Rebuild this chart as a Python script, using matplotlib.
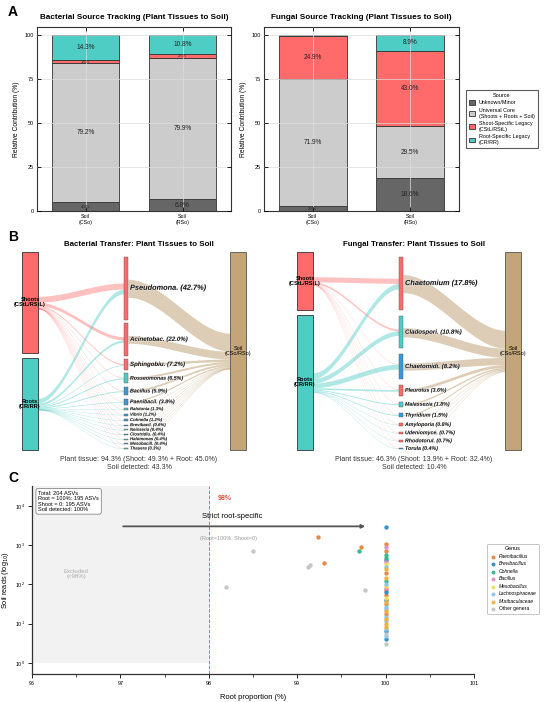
import numpy as np
import matplotlib
matplotlib.use("Agg")
import matplotlib.pyplot as plt
from matplotlib.patches import Rectangle, Patch
from matplotlib.ticker import MultipleLocator, NullLocator
import matplotlib.patheffects as pe

plt.rcParams['font.family'] = ['Liberation Sans', 'DejaVu Sans']

# ---------------- panel A: source tracking (%)
samples = ['Soil\n(CSo)', 'Soil\n(RSo)']
source_names = ['Unknown/Minor', 'Universal Core\n(Shoots + Roots + Soil)',
                'Shoot-Specific Legacy\n(CStL/RStL)', 'Root-Specific Legacy\n(CR/RR)']
bac_unknown = [4.9, 6.8]
bac_core = [79.2, 79.9]
bac_shoot = [1.6, 2.5]
bac_root = [14.3, 10.8]
fun_unknown = [2.8, 18.6]
fun_core = [71.9, 29.5]
fun_shoot = [24.9, 43.0]
fun_root = [0.4, 8.9]

# ---------------- panel B: transfer plant tissue -> soil (%)
bac_genera = ['Pseudomona.', 'Acinetobac.', 'Sphingobiu.', 'Rosseomonas', 'Bacillus',
              'Paenibacil.', 'Ralstonia', 'Vibrio', 'Cohnella', 'Brevibacil.',
              'Neisseria', 'Clostridiu.', 'Halomonas', 'Mesobacill.', 'Thauera']
bac_from_shoot = [24.0, 13.0, 4.5, 2.0, 2.0, 1.2, 0.6, 0.4, 0.5, 0.3, 0.3, 0.1, 0.2, 0.1, 0.1]
bac_from_root = [18.7, 9.0, 2.7, 4.5, 3.9, 2.6, 0.7, 0.8, 0.7, 0.3, 0.1, 0.3, 0.2, 0.3, 0.2]
bac_to_soil = [22.0, 9.5, 3.0, 2.5, 2.3, 1.6, 0.5, 0.4, 0.5, 0.3, 0.1, 0.2, 0.1, 0.2, 0.1]
bac_kind = ['shoot', 'shoot', 'shoot', 'root', 'both', 'both', 'root', 'both', 'both',
            'both', 'root', 'both', 'root', 'both', 'root']

fun_genera = ['Chaetomium', 'Cladospori.', 'Chaetomidi.', 'Pleurotus', 'Malassezia',
              'Thyridium', 'Amyloporia', 'Udeniomyce.', 'Rhodotorul.', 'Torula']
fun_from_shoot = [8.5, 3.0, 0.2, 0.8, 0.2, 0.1, 0.4, 0.3, 0.3, 0.1]
fun_from_root = [9.3, 7.8, 8.0, 2.8, 1.6, 1.4, 0.4, 0.4, 0.4, 0.3]
fun_to_soil = [4.5, 2.3, 1.8, 0.7, 0.4, 0.3, 0.1, 0.1, 0.1, 0.1]
fun_kind = ['shoot', 'root', 'both', 'shoot', 'root', 'both', 'shoot', 'shoot', 'shoot', 'both']

# ---------------- panel C: root-specific ASVs
partial_root_pct = [98.2, 98.5, 99.12, 99.15, 99.23, 99.30, 99.70, 99.72, 99.77]
partial_soil_reads = [85, 700, 280, 310, 1600, 350, 700, 900, 70]
partial_genus = ['Other genera', 'Other genera', 'Other genera', 'Other genera',
                 'Paenibacillus', 'Paenibacillus', 'Cohnella', 'Paenibacillus', 'Other genera']
strict_soil_reads = [2860, 1080, 890, 700, 550, 477, 410, 365, 325, 277, 242, 198, 144, 123,
                     105, 92, 83, 73, 62, 54, 46, 41, 35, 32, 27, 24, 21, 18, 15, 13, 11.5,
                     9.9, 8.4, 7.4, 6.3, 5.5, 4.9, 4.0, 3.0]
strict_genus = ['Brevibacillus', 'Paenibacillus', 'Bacillus', 'Paenibacillus', 'Cohnella',
                'Cohnella', 'Brevibacillus', 'Bacillus', 'Mesobacillus', 'Lachnospiraceae',
                'Muribaculaceae', 'Paenibacillus', 'Muribaculaceae', 'Cohnella',
                'Lachnospiraceae', 'Mesobacillus', 'Bacillus', 'Paenibacillus', 'Brevibacillus',
                'Paenibacillus', 'Mesobacillus', 'Brevibacillus', 'Muribaculaceae',
                'Paenibacillus', 'Lachnospiraceae', 'Lachnospiraceae', 'Muribaculaceae',
                'Paenibacillus', 'Lachnospiraceae', 'Muribaculaceae', 'Lachnospiraceae',
                'Muribaculaceae', 'Muribaculaceae', 'Lachnospiraceae', 'Brevibacillus',
                'Other genera', 'Lachnospiraceae', 'Brevibacillus', 'Other genera']
n_total_asv = 204
n_root100 = 195
n_shoot0 = 195
soil_detected_pct = 100
root_cutoff = 98

# ---------------- colours
C_UNK, C_CORE, C_SHOOT, C_ROOT = '#666666', '#CCCCCC', '#FF6B6B', '#4ECDC4'
C_BOTH = '#3A9AD9'
C_SOIL = '#C4A57A'
kind_color = {'shoot': C_SHOOT, 'root': C_ROOT, 'both': C_BOTH}
genus_colors = {'Paenibacillus': '#E8833A', 'Brevibacillus': '#2E8BCC', 'Cohnella': '#2DB88A',
                'Bacillus': '#E68AC3', 'Mesobacillus': '#EEE055', 'Lachnospiraceae': '#86C5EC',
                'Muribaculaceae': '#F2AE3C', 'Other genera': '#C4C4C4'}

fig = plt.figure(figsize=(5.5, 7.02), dpi=100)
W, H = 550.0, 702.0


def px_axes(x0, y0, x1, y1):
    return fig.add_axes([x0 / W, 1 - y1 / H, (x1 - x0) / W, (y1 - y0) / H])


def draw_source(ax, title, unknown, core, shoot, root):
    x = np.arange(len(samples))
    bottom = np.zeros(len(samples))
    for vals, col in zip([unknown, core, shoot, root], [C_UNK, C_CORE, C_SHOOT, C_ROOT]):
        vals = np.array(vals)
        ax.bar(x, vals, 0.7, bottom=bottom, color=col, edgecolor='#333333', lw=0.6, zorder=2)
        for xi, b, v in zip(x, bottom, vals):
            if v >= 1.0:
                ax.text(xi, b + v / 2, f'{v:.1f}%', ha='center', va='center',
                        fontsize=4.7 if v >= 5 else 3.0, color='#222222', zorder=4)
        bottom += vals
    ax.set_xlim(-0.5, 1.5)
    ax.set_ylim(0, 104.5)
    ax.set_xticks(x)
    ax.set_xticklabels(samples, fontsize=3.8)
    ax.set_yticks([0, 25, 50, 75, 100])
    ax.tick_params(axis='y', labelsize=4.0)
    ax.tick_params(direction='in', length=3, width=0.6, top=True, right=True, pad=2.5)
    ax.set_axisbelow(False)
    ax.grid(color='#DDDDDD', lw=0.5)
    for s in ax.spines.values():
        s.set_color('#333333')
        s.set_linewidth(0.8)
    ax.set_ylabel('Relative Contribution (%)', fontsize=4.9, labelpad=3)
    ax.set_title(title, fontsize=5.9, fontweight='bold', pad=6)


def band(ax, x0, x1, y0, y1, w, color, alpha):
    t = np.linspace(0, 1, 80)
    s = 3 * t ** 2 - 2 * t ** 3
    xs = x0 + (x1 - x0) * t
    yc = y0 + (y1 - y0) * s
    w = max(w, 0.4)
    ax.fill_between(xs, yc - w / 2, yc + w / 2, color=color, alpha=alpha, lw=0, zorder=1)


def draw_sankey(ax, title, genera, from_shoot, from_root, to_soil, kinds):
    shoot = np.array(from_shoot)
    root = np.array(from_root)
    soil = np.array(to_soil)
    total = shoot + root
    n = len(genera)
    ax.set_xlim(0, 230)
    ax.set_ylim(236, 0)
    ax.axis('off')
    sx0, sx1 = 2, 18
    mx0, mx1 = 104, 108
    tx0, tx1 = 210, 226
    top, bot, gap = 16, 214, 5
    h_sh = (bot - top - gap) * shoot.sum() / total.sum()
    sh_top, sh_bot = top, top + h_sh
    rt_top, rt_bot = sh_bot + gap, bot
    sh_c, rt_c, soil_c = (sh_top + sh_bot) / 2, (rt_top + rt_bot) / 2, (top + bot) / 2

    mtop, mbot = 21, 213
    h = np.maximum(total / total.sum() * 0.72 * (mbot - mtop), 1.0)
    mgap = (mbot - mtop - h.sum()) / (n - 1)
    ytop = mtop + np.concatenate([[0], np.cumsum(h[:-1] + mgap)])
    mc = ytop + h / 2

    fscale = 10.7 / total.max()
    ws, wr = shoot * fscale, root * fscale
    s_cent = sh_c - ws.sum() / 2 + np.cumsum(ws) - ws / 2
    r_cent = rt_c - wr.sum() / 2 + np.cumsum(wr) - wr / 2
    m_top = mc - (ws + wr) / 2
    for i in range(n):
        band(ax, sx1, mx0, s_cent[i], m_top[i] + ws[i] / 2, ws[i], C_SHOOT, 0.42)
    for i in range(n):
        band(ax, sx1, mx0, r_cent[i], m_top[i] + ws[i] + wr[i] / 2, wr[i], C_ROOT, 0.45)
    wt = soil * 18 / soil.max()
    t_cent = soil_c - wt.sum() / 2 + np.cumsum(wt) - wt / 2
    for i in range(n):
        band(ax, mx1, tx0, mc[i], t_cent[i], wt[i], C_SOIL, 0.55)

    # nodes
    ax.add_patch(Rectangle((sx0, sh_top), sx1 - sx0, sh_bot - sh_top, fc=C_SHOOT, ec='#333333', lw=0.6, zorder=3))
    ax.add_patch(Rectangle((sx0, rt_top), sx1 - sx0, rt_bot - rt_top, fc=C_ROOT, ec='#333333', lw=0.6, zorder=3))
    ax.add_patch(Rectangle((tx0, top), tx1 - tx0, bot - top, fc=C_SOIL, ec='#555555', lw=0.6, zorder=3))
    ax.text((sx0 + sx1) / 2, sh_c, 'Shoots\n(CStL/RStL)', ha='center', va='center',
            fontsize=4.1, fontweight='bold', zorder=5, linespacing=1.0)
    ax.text((sx0 + sx1) / 2, rt_c, 'Roots\n(CR/RR)', ha='center', va='center',
            fontsize=4.1, fontweight='bold', zorder=5, linespacing=1.0)
    ax.text((tx0 + tx1) / 2, soil_c, 'Soil\n(CSo/RSo)', ha='center', va='center',
            fontsize=4.0, zorder=5, linespacing=1.0)
    for i in range(n):
        ax.add_patch(Rectangle((mx0, ytop[i]), mx1 - mx0, h[i], fc=kind_color[kinds[i]],
                               ec='#555555', lw=0.3, zorder=3))
        if i == 0:
            fs = 5.3
        elif i < 3:
            fs = 4.4
        elif total[i] >= 1.5 or n <= 10:
            fs = 3.8
        else:
            fs = 3.1
        ax.text(mx1 + 2, mc[i], f'{genera[i]} ({total[i]:.1f}%)', ha='left', va='center',
                fontsize=fs, fontstyle='italic', fontweight='bold', color='#1A1A1A', zorder=5,
                path_effects=[pe.withStroke(linewidth=0.8, foreground='white', alpha=0.6)])
    ax.text(119, 9, title, ha='center', va='center', fontsize=5.7, fontweight='bold')
    ax.text(119, 220, f'Plant tissue: {total.sum():.1f}% (Shoot: {shoot.sum():.1f}% + Root: {root.sum():.1f}%)\n'
            f'Soil detected: {soil.sum():.1f}%', ha='center', va='top', fontsize=5.0,
            color='#333333', linespacing=1.15)


# ---- panel A
axA1 = px_axes(37, 27, 231, 211)
axA2 = px_axes(264, 27, 459, 211)
draw_source(axA1, 'Bacterial Source Tracking (Plant Tissues to Soil)', bac_unknown, bac_core, bac_shoot, bac_root)
draw_source(axA2, 'Fungal Source Tracking (Plant Tissues to Soil)', fun_unknown, fun_core, fun_shoot, fun_root)
handles = [Patch(facecolor=c, edgecolor='#333333', lw=0.6, label=l)
           for c, l in zip([C_UNK, C_CORE, C_SHOOT, C_ROOT], source_names)]
leg = axA2.legend(handles=handles, title='Source', loc='upper left', bbox_to_anchor=(1.02, 0.675),
                  fontsize=3.9, title_fontsize=4.0, fancybox=False, edgecolor='#333333',
                  handlelength=1.2, handleheight=1.0, borderpad=0.6, labelspacing=0.45,
                  handletextpad=0.6)
leg.get_frame().set_linewidth(0.8)

# ---- panel B
axB1 = px_axes(20, 236, 250, 472)
axB2 = px_axes(295, 236, 525, 472)
draw_sankey(axB1, 'Bacterial Transfer: Plant Tissues to Soil', bac_genera, bac_from_shoot,
            bac_from_root, bac_to_soil, bac_kind)
draw_sankey(axB2, 'Fungal Transfer: Plant Tissues to Soil', fun_genera, fun_from_shoot,
            fun_from_root, fun_to_soil, fun_kind)

# ---- panel C
axC = px_axes(32, 486, 474, 674)
axC.set_yscale('log')
axC.set_xlim(96, 101)
axC.set_ylim(0.52, 3.2e4)
axC.fill_between([96, root_cutoff], 1, 3.2e4, color='#F2F2F2', lw=0, zorder=0)
axC.axvline(root_cutoff, color='#E74C3C', ls='--', lw=0.7, alpha=0.85, zorder=1)
for g in genus_colors:
    xs = [p for p, gg in zip(partial_root_pct, partial_genus) if gg == g]
    ys = [r for r, gg in zip(partial_soil_reads, partial_genus) if gg == g]
    ys2 = [r for r, gg in zip(strict_soil_reads, strict_genus) if gg == g]
    xs = xs + [100] * len(ys2)
    ys = ys + ys2
    axC.scatter(xs, ys, s=10, color=genus_colors[g], lw=0, alpha=0.95, zorder=3, label=g)
axC.text(root_cutoff + 0.1, 1.5e4, f'{root_cutoff}%', color='#E74C3C', fontweight='bold', fontsize=5.0,
         va='center')
axC.annotate('', xy=(99.8, 3000), xytext=(97, 3000),
             arrowprops=dict(arrowstyle='-|>', color='#555555', lw=1.3, mutation_scale=5))
axC.text(98.27, 5200, 'Strict root-specific', ha='center', va='center', fontsize=5.4)
axC.text(98.22, 1500, '(Root=100%, Shoot=0)', ha='center', va='center', fontsize=4.0, color='#999999')
axC.text(96.5, 185, f'Excluded\n(<{root_cutoff}%)', ha='center', va='center', fontsize=4.3,
         color='#AAAAAA', linespacing=1.1)
axC.text(0.014, 0.975, f'Total: {n_total_asv} ASVs\nRoot = 100%: {n_root100} ASVs\n'
         f'Shoot = 0: {n_shoot0} ASVs\nSoil detected: {soil_detected_pct}%',
         transform=axC.transAxes, ha='left', va='top', fontsize=4.1, linespacing=1.1,
         bbox=dict(boxstyle='round,pad=0.4', fc='white', ec='#888888', lw=0.6))
axC.xaxis.set_major_locator(MultipleLocator(1))
axC.xaxis.set_minor_locator(MultipleLocator(0.5))
axC.yaxis.set_minor_locator(NullLocator())
axC.tick_params(labelsize=3.9, width=0.6, length=3, pad=2)
axC.tick_params(which='minor', width=0.5, length=2)
for s in ['top', 'right']:
    axC.spines[s].set_visible(False)
for s in ['left', 'bottom']:
    axC.spines[s].set_color('#333333')
    axC.spines[s].set_linewidth(0.9)
axC.set_xlabel('Root proportion (%)', fontsize=5.4, labelpad=6)
axC.set_ylabel('Soil reads (log$_{10}$)', fontsize=5.3, labelpad=3)
lc = axC.legend(title='Genus', loc='upper left', bbox_to_anchor=(1.025, 0.70), fontsize=3.6,
                title_fontsize=3.9, markerscale=0.9, handletextpad=0.4, labelspacing=0.5,
                edgecolor='#AAAAAA', borderpad=0.5, borderaxespad=0.3, handlelength=1.6)
for t in lc.get_texts():
    if t.get_text() != 'Other genera':
        t.set_fontstyle('italic')
lc.get_frame().set_linewidth(0.6)

for lab, y in [('A', 12), ('B', 237), ('C', 478)]:
    fig.text(13 / W, 1 - y / H, lab, fontsize=10, fontweight='bold', ha='center', va='center')

fig.savefig('out.png', dpi=100)
